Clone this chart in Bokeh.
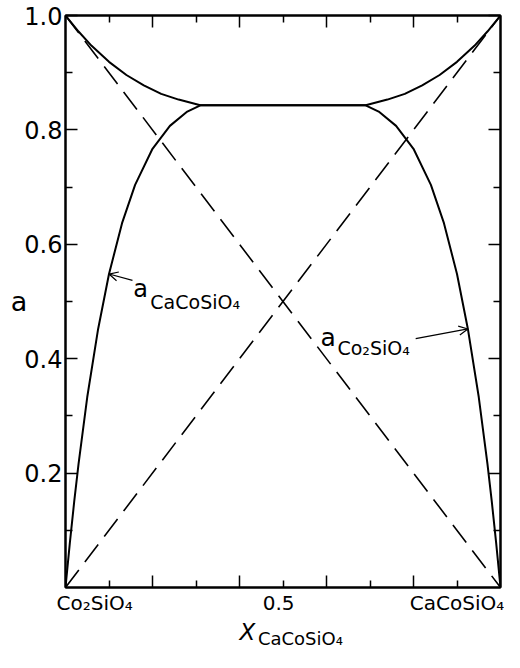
from bokeh.plotting import figure
from bokeh.models import (Range1d, LinearAxis, FixedTicker, PrintfTickFormatter,
                          Label, Arrow, OpenHead)
from bokeh.embed import file_html
from bokeh.resources import INLINE

# ---- data ----
# a(CaCoSiO4), Co2SiO4-rich branch
x_ca_lower = [0, 0.01, 0.02, 0.03, 0.05, 0.075, 0.10, 0.13, 0.16, 0.20, 0.24, 0.28, 0.31]
a_ca_lower = [0, 0.078, 0.150, 0.216, 0.333, 0.452, 0.548, 0.637, 0.704, 0.767, 0.807, 0.832, 0.843]
# miscibility gap plateau
x_gap = [0.31, 0.69]
a_gap = [0.843, 0.843]
# a(CaCoSiO4), CaCoSiO4-rich branch
x_ca_upper = [0.69, 0.74, 0.78, 0.82, 0.86, 0.90, 0.94, 0.97, 1.0]
a_ca_upper = [0.843, 0.853, 0.863, 0.878, 0.896, 0.919, 0.947, 0.972, 1.0]
# a(Co2SiO4), Co2SiO4-rich branch
x_co_upper = [0, 0.03, 0.06, 0.10, 0.14, 0.18, 0.22, 0.26, 0.31]
a_co_upper = [1.0, 0.972, 0.947, 0.919, 0.896, 0.878, 0.863, 0.853, 0.843]
# a(Co2SiO4), CaCoSiO4-rich branch
x_co_lower = [0.69, 0.72, 0.76, 0.80, 0.84, 0.87, 0.90, 0.925, 0.95, 0.97, 0.98, 0.99, 1.0]
a_co_lower = [0.843, 0.832, 0.807, 0.767, 0.704, 0.637, 0.548, 0.452, 0.333, 0.216, 0.150, 0.078, 0]
# ideal (Raoult) lines
x_ideal = [0, 1]
a_ideal_ca = [0, 1]
a_ideal_co = [1, 0]

# ticks / labels
x_major_ticks = [0.2, 0.4, 0.6, 0.8]
x_minor_ticks = [0.1, 0.3, 0.5, 0.7, 0.9]
y_major_ticks = [0.2, 0.4, 0.6, 0.8, 1.0]
y_minor_ticks = [0.1, 0.3, 0.5, 0.7, 0.9]
x_text_labels = ["Co₂SiO₄", "0.5", "CaCoSiO₄"]
x_text_label_pos = [0.067, 0.49, 0.90]   # label centres (end members sit inside the frame)
x_title_main = "X"
x_title_main_pos = 0.418
x_title_sub = "CaCoSiO₄"
x_title_sub_pos = 0.540

FONT = "DejaVu Sans"

p = figure(width=504, height=652, x_range=Range1d(0, 1), y_range=Range1d(0, 1),
           output_backend="svg", toolbar_location=None,
           x_axis_type=None, y_axis_type=None,
           min_border_left=65, min_border_right=4,
           min_border_top=15, min_border_bottom=65)
p.outline_line_color = "black"
p.outline_line_width = 2
p.background_fill_color = "white"
p.border_fill_color = "white"


def make_axis(major, minor, labels=True):
    ax = LinearAxis(ticker=FixedTicker(ticks=major, minor_ticks=minor))
    ax.axis_line_color = "black"
    ax.axis_line_width = 2
    ax.major_tick_in = 12
    ax.major_tick_out = 0
    ax.minor_tick_in = 7
    ax.minor_tick_out = 0
    ax.major_tick_line_width = 1.5
    ax.minor_tick_line_width = 1.5
    ax.major_tick_line_color = "black"
    ax.minor_tick_line_color = "black"
    if not labels:
        ax.major_label_overrides = {t: "" for t in major}
        ax.major_label_standoff = 0
        ax.major_label_text_font_size = "1px"
    return ax


def text_axis(ticks, labels, size, standoff, style="normal"):
    ax = LinearAxis(ticker=FixedTicker(ticks=ticks, minor_ticks=[]))
    ax.major_label_overrides = dict(zip(ticks, labels))
    ax.axis_line_color = None
    ax.major_tick_line_color = None
    ax.minor_tick_line_color = None
    ax.major_tick_in = 0
    ax.major_tick_out = 0
    try:
        ax.major_label_standoff = standoff
    except Exception:
        ax.major_label_standoff = 0
    ax.major_label_text_font = FONT
    ax.major_label_text_font_size = size
    ax.major_label_text_font_style = style
    ax.major_label_text_color = "black"
    return ax


left = make_axis(y_major_ticks, y_minor_ticks)
left.formatter = PrintfTickFormatter(format="%.1f")
left.major_label_text_font = FONT
left.major_label_text_font_size = "24px"
left.major_label_text_color = "black"
left.major_label_standoff = 3
left.axis_label = "a"
left.axis_label_text_font = FONT
left.axis_label_text_font_size = "27px"
left.axis_label_text_font_style = "normal"
left.axis_label_text_color = "black"
try:
    left.axis_label_standoff = -6
except Exception:
    left.axis_label_standoff = 0
if hasattr(left, "axis_label_orientation"):
    left.axis_label_orientation = "horizontal"
p.add_layout(left, "left")
p.add_layout(make_axis(y_major_ticks, y_minor_ticks, labels=False), "right")
p.add_layout(make_axis(x_major_ticks, x_minor_ticks, labels=False), "below")
p.add_layout(make_axis(x_major_ticks, x_minor_ticks, labels=False), "above")

# composition labels, then x-axis title (italic X with CaCoSiO4 subscript)
p.add_layout(text_axis(x_text_label_pos, x_text_labels, "20px", 3), "below")
p.add_layout(text_axis([x_title_main_pos], [x_title_main], "23px", 1, style="italic"), "below")
p.add_layout(text_axis([x_title_sub_pos], [x_title_sub], "18px", -20), "below")

# ideal lines
p.line(x_ideal, a_ideal_ca, line_color="black", line_width=1.6, line_dash="22 10")
p.line(x_ideal, a_ideal_co, line_color="black", line_width=1.6, line_dash="22 10")

# activity curves
p.line(x_ca_lower + x_gap + x_ca_upper, a_ca_lower + a_gap + a_ca_upper,
       line_color="black", line_width=2)
p.line(x_co_upper + x_gap + x_co_lower, a_co_upper + a_gap + a_co_lower,
       line_color="black", line_width=2)


def lab(x, y, text, size, align="left", style="normal"):
    p.add_layout(Label(x=x, y=y, x_units="data", y_units="data", text=text,
                       text_font=FONT, text_font_size=size, text_align=align,
                       text_baseline="alphabetic", text_color="black",
                       text_font_style=style))


# curve labels
lab(0.156, 0.522, "a", "24px")
lab(0.195, 0.500, "CaCoSiO₄", "19px")
lab(0.586, 0.437, "a", "25px")
lab(0.625, 0.418, "Co₂SiO₄", "19px")

p.add_layout(Arrow(end=OpenHead(size=9, line_width=1.2, line_color="black"),
                   x_start=0.154, y_start=0.537,
                   x_end=x_ca_lower[6], y_end=a_ca_lower[6],
                   line_width=1.2, line_color="black"))
p.add_layout(Arrow(end=OpenHead(size=9, line_width=1.2, line_color="black"),
                   x_start=0.805, y_start=0.435,
                   x_end=x_co_lower[7], y_end=a_co_lower[7],
                   line_width=1.2, line_color="black"))

open("out.html", "w").write(file_html(p, INLINE))
